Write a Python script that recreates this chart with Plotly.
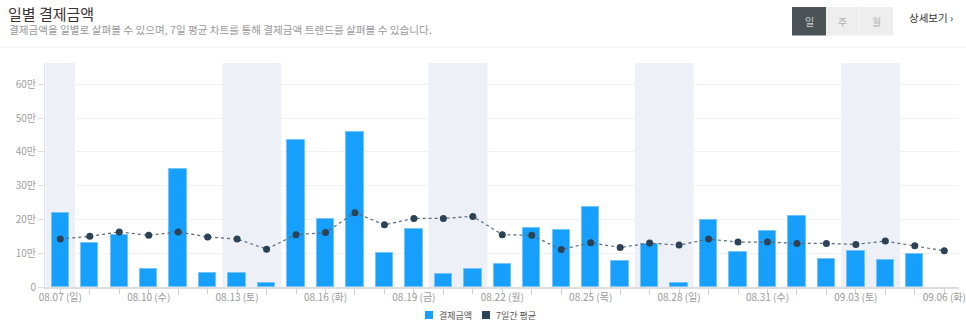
import plotly.graph_objects as go

# ---------------- data ----------------
dates = ["08.07", "08.08", "08.09", "08.10", "08.11", "08.12", "08.13", "08.14",
         "08.15", "08.16", "08.17", "08.18", "08.19", "08.20", "08.21", "08.22",
         "08.23", "08.24", "08.25", "08.26", "08.27", "08.28", "08.29", "08.30",
         "08.31", "09.01", "09.02", "09.03", "09.04", "09.05", "09.06"]
weekdays = ["일", "월", "화", "수", "목", "금", "토", "일",
            "월", "화", "수", "목", "금", "토", "일", "월",
            "화", "수", "목", "금", "토", "일", "월", "화",
            "수", "목", "금", "토", "일", "월", "화"]
amounts = [218000, 130000, 154000, 52000, 348000, 40000, 40000, 11000,
           435000, 201000, 458000, 102000, 171000, 38000, 52000, 69000,
           175000, 169000, 236000, 78000, 128000, 13000, 198000, 104000,
           167000, 211000, 82000, 106000, 81000, 99000, None]
avg7 = [142000, 150000, 163000, 153000, 163000, 148000, 142000, 112000,
        155000, 161000, 220000, 184000, 203000, 203000, 209000, 155000,
        153000, 111000, 131000, 117000, 130000, 124000, 142000, 133000,
        133000, 129000, 129000, 126000, 136000, 122000, 107000]
y_tick_vals = [0, 100000, 200000, 300000, 400000, 500000, 600000]
y_tick_text = ["0", "10만", "20만", "30만", "40만", "50만", "60만"]
series_names = ["결제금액", "7일간 평균"]
title_text = "일별 결제금액"
subtitle_text = "결제금액을 일별로 살펴볼 수 있으며, 7일 평균 차트를 통해 결제금액 트렌드를 살펴볼 수 있습니다."
buttons = ["일", "주", "월"]
detail_text = "상세보기 ›"

# ---------------- styling ----------------
FONT = "Noto Sans CJK KR"
BAR_COLOR = "#16a0fb"
LINE_COLOR = "#2c4256"
BAND_COLOR = "#edf1f7"

W, H = 966, 324
ML, MR, MT, MB = 45, 7, 63, 37
PW, PH = W - ML - MR, H - MT - MB


def px(x):
    return (x - ML) / PW


def py(y):
    return (H - MB - y) / PH


xs = list(range(len(dates)))
label_idx = [i for i in xs if i % 3 == 0]

fig = go.Figure()
fig.add_trace(go.Bar(
    x=xs, y=amounts, width=0.59, name=series_names[0],
    marker=dict(color=BAR_COLOR, line=dict(color="#72c4fb", width=1)),
    showlegend=False, hoverinfo="y",
))
fig.add_trace(go.Scatter(
    x=xs, y=avg7, mode="lines+markers", name=series_names[1],
    line=dict(color="#55697b", width=1.2, dash="dot"),
    marker=dict(color=LINE_COLOR, size=7),
    showlegend=False,
))

shapes = []
# weekend bands (merge consecutive weekend days into one band)
runs = []
for i, wd in enumerate(weekdays):
    if wd in ("토", "일"):
        if runs and runs[-1][1] == i - 1:
            runs[-1][1] = i
        else:
            runs.append([i, i])
for a, b in runs:
    shapes.append(dict(type="rect", xref="x", yref="paper", x0=a - 0.5, x1=b + 0.5,
                       y0=0, y1=1, fillcolor=BAND_COLOR, line=dict(width=0), layer="below"))
# header separator
shapes.append(dict(type="line", xref="paper", yref="paper", x0=px(0), x1=px(W),
                   y0=py(47), y1=py(47), line=dict(color="#eeeeee", width=1)))
# buttons
btn_x = [(792, 826), (826, 859), (859, 893)]
for k, (a, b) in enumerate(btn_x):
    shapes.append(dict(type="rect", xref="paper", yref="paper", x0=px(a), x1=px(b),
                       y0=py(35.5), y1=py(7), fillcolor="#4c5356" if k == 0 else "#eeeeee",
                       line=dict(width=0)))
shapes.append(dict(type="line", xref="paper", yref="paper", x0=px(859), x1=px(859),
                   y0=py(35.5), y1=py(7), line=dict(color="#f7f7f7", width=1)))
# legend squares
shapes.append(dict(type="rect", xref="paper", yref="paper", x0=px(425), x1=px(433),
                   y0=py(319), y1=py(311), fillcolor=BAR_COLOR, line=dict(width=0)))
shapes.append(dict(type="rect", xref="paper", yref="paper", x0=px(482), x1=px(490),
                   y0=py(319), y1=py(311), fillcolor=LINE_COLOR, line=dict(width=0)))

annotations = [
    dict(text=title_text, xref="paper", yref="paper", x=px(6), y=py(13.5),
         xanchor="left", yanchor="middle", showarrow=False,
         font=dict(family=FONT, size=15, color="#3a3030")),
    dict(text=subtitle_text, xref="paper", yref="paper", x=px(7), y=py(29),
         xanchor="left", yanchor="middle", showarrow=False,
         font=dict(family=FONT, size=10.6, color="#999999")),
    dict(text=detail_text, xref="paper", yref="paper", x=px(907), y=py(17),
         xanchor="left", yanchor="middle", showarrow=False,
         font=dict(family=FONT, size=10.5, color="#333333")),
    dict(text=series_names[0], xref="paper", yref="paper", x=px(437), y=py(315),
         xanchor="left", yanchor="middle", showarrow=False,
         font=dict(family=FONT, size=9, color="#555555")),
    dict(text=series_names[1], xref="paper", yref="paper", x=px(494), y=py(315),
         xanchor="left", yanchor="middle", showarrow=False,
         font=dict(family=FONT, size=9, color="#555555")),
]
for k, (a, b) in enumerate(btn_x):
    annotations.append(dict(text=buttons[k], xref="paper", yref="paper", x=px((a + b) / 2), y=py(21),
                            xanchor="center", yanchor="middle", showarrow=False,
                            font=dict(family=FONT, size=10, color="#d0d4d6" if k == 0 else "#b0b0b0")))

fig.update_layout(
    width=W, height=H,
    margin=dict(l=ML, r=MR, t=MT, b=MB, autoexpand=False),
    paper_bgcolor="white", plot_bgcolor="white",
    font=dict(family=FONT, size=10, color="#999999"),
    bargap=0,
    shapes=shapes, annotations=annotations,
    showlegend=False,
    xaxis=dict(
        range=[-0.52, 30.5], showgrid=False, zeroline=False, automargin=False,
        tickmode="array", tickvals=label_idx,
        ticktext=[f"{dates[i]} ({weekdays[i]})" for i in label_idx],
        ticks="outside", ticklen=0, tickcolor="#cccccc",
        minor=dict(tickmode="linear", tick0=0, dtick=1, ticks="outside", ticklen=5, tickcolor="#d0d0d0"),
        showline=True, linecolor="#dddddd", linewidth=2,
        tickfont=dict(family=FONT, size=10, color="#999999"),
        fixedrange=True,
    ),
    yaxis=dict(
        range=[0, 663000], tickmode="array", tickvals=y_tick_vals, ticktext=y_tick_text,
        showgrid=True, gridcolor="#f1f1f1", gridwidth=1, zeroline=False, automargin=False,
        ticks="outside", ticklen=6, tickcolor="#dddddd",
        showline=True, linecolor="#e3e3e3", linewidth=1,
        tickfont=dict(family=FONT, size=10, color="#a0a0a0"),
        fixedrange=True,
    ),
)

fig.write_html("out.html")
